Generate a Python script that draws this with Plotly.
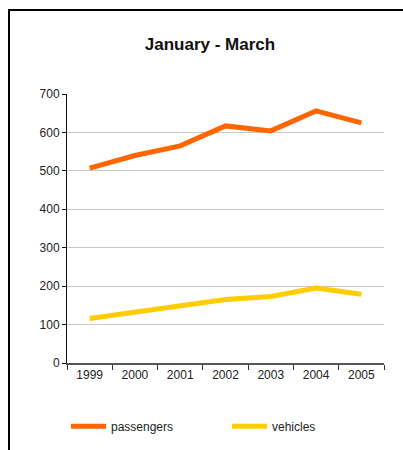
import plotly.graph_objects as go

years = ["1999", "2000", "2001", "2002", "2003", "2004", "2005"]
passengers = [507, 540, 565, 617, 604, 656, 625]
vehicles = [116, 133, 149, 165, 173, 195, 179]

W, H = 403, 450
X0, X1 = 67, 384          # plot area in screen px
Y0, Y1 = 94, 362.7
L = X0
T = Y0
R = W - X1
B = H - Y1
pw, ph = X1 - X0, Y1 - Y0


def px(x):
    return (x - X0) / pw


def py(y):
    return (Y1 - y) / ph


fig = go.Figure()
fig.add_trace(go.Scatter(x=years, y=passengers, mode="lines", name="passengers",
                         line=dict(color="#FF6600", width=5)))
fig.add_trace(go.Scatter(x=years, y=vehicles, mode="lines", name="vehicles",
                         line=dict(color="#FFCC00", width=5)))

fig.update_layout(
    width=W, height=H,
    margin=dict(l=L, r=R, t=T, b=B, autoexpand=False),
    paper_bgcolor="white", plot_bgcolor="white",
    font=dict(family="Liberation Sans, Arial", size=12, color="#222"),
    title=dict(text="<b>January - March</b>", x=210 / W, xanchor="center",
               y=1 - 44 / H, yanchor="middle",
               font=dict(size=17, color="#111", family="Liberation Sans, Arial")),
    xaxis=dict(type="category", range=[-0.5, 6.5], tickson="boundaries",
               ticks="outside", ticklen=5, tickcolor="#333", showline=True,
               linecolor="#555", linewidth=1.5, showgrid=False, fixedrange=True,
               tickfont=dict(size=12, color="#222")),
    yaxis=dict(range=[0, 700], dtick=100, ticks="outside", ticklen=4,
               tickcolor="#111", showline=True, linecolor="#111", linewidth=1,
               gridcolor="#C8C8C8", gridwidth=1, zeroline=False, fixedrange=True,
               tickfont=dict(size=12, color="#222")),
    legend=dict(orientation="h", x=px(66), xanchor="left", y=py(426),
                yanchor="middle", entrywidth=111, entrywidthmode="pixels",
                itemwidth=35,
                font=dict(size=12, color="#222"), bgcolor="rgba(0,0,0,0)"),
    showlegend=True,
    shapes=[
        dict(type="line", xref="paper", yref="paper", x0=px(8), x1=px(410),
             y0=py(10), y1=py(10), line=dict(color="black", width=2)),
        dict(type="line", xref="paper", yref="paper", x0=px(9), x1=px(9),
             y0=py(9), y1=py(460), line=dict(color="black", width=2)),
    ],
)

fig.write_html(
    "out.html",
    config={"displayModeBar": False, "staticPlot": True},
    post_script=(
        "document.body.style.margin='0';"
        "document.body.style.overflow='hidden';"
        "document.documentElement.style.overflow='hidden';"
    ),
)
